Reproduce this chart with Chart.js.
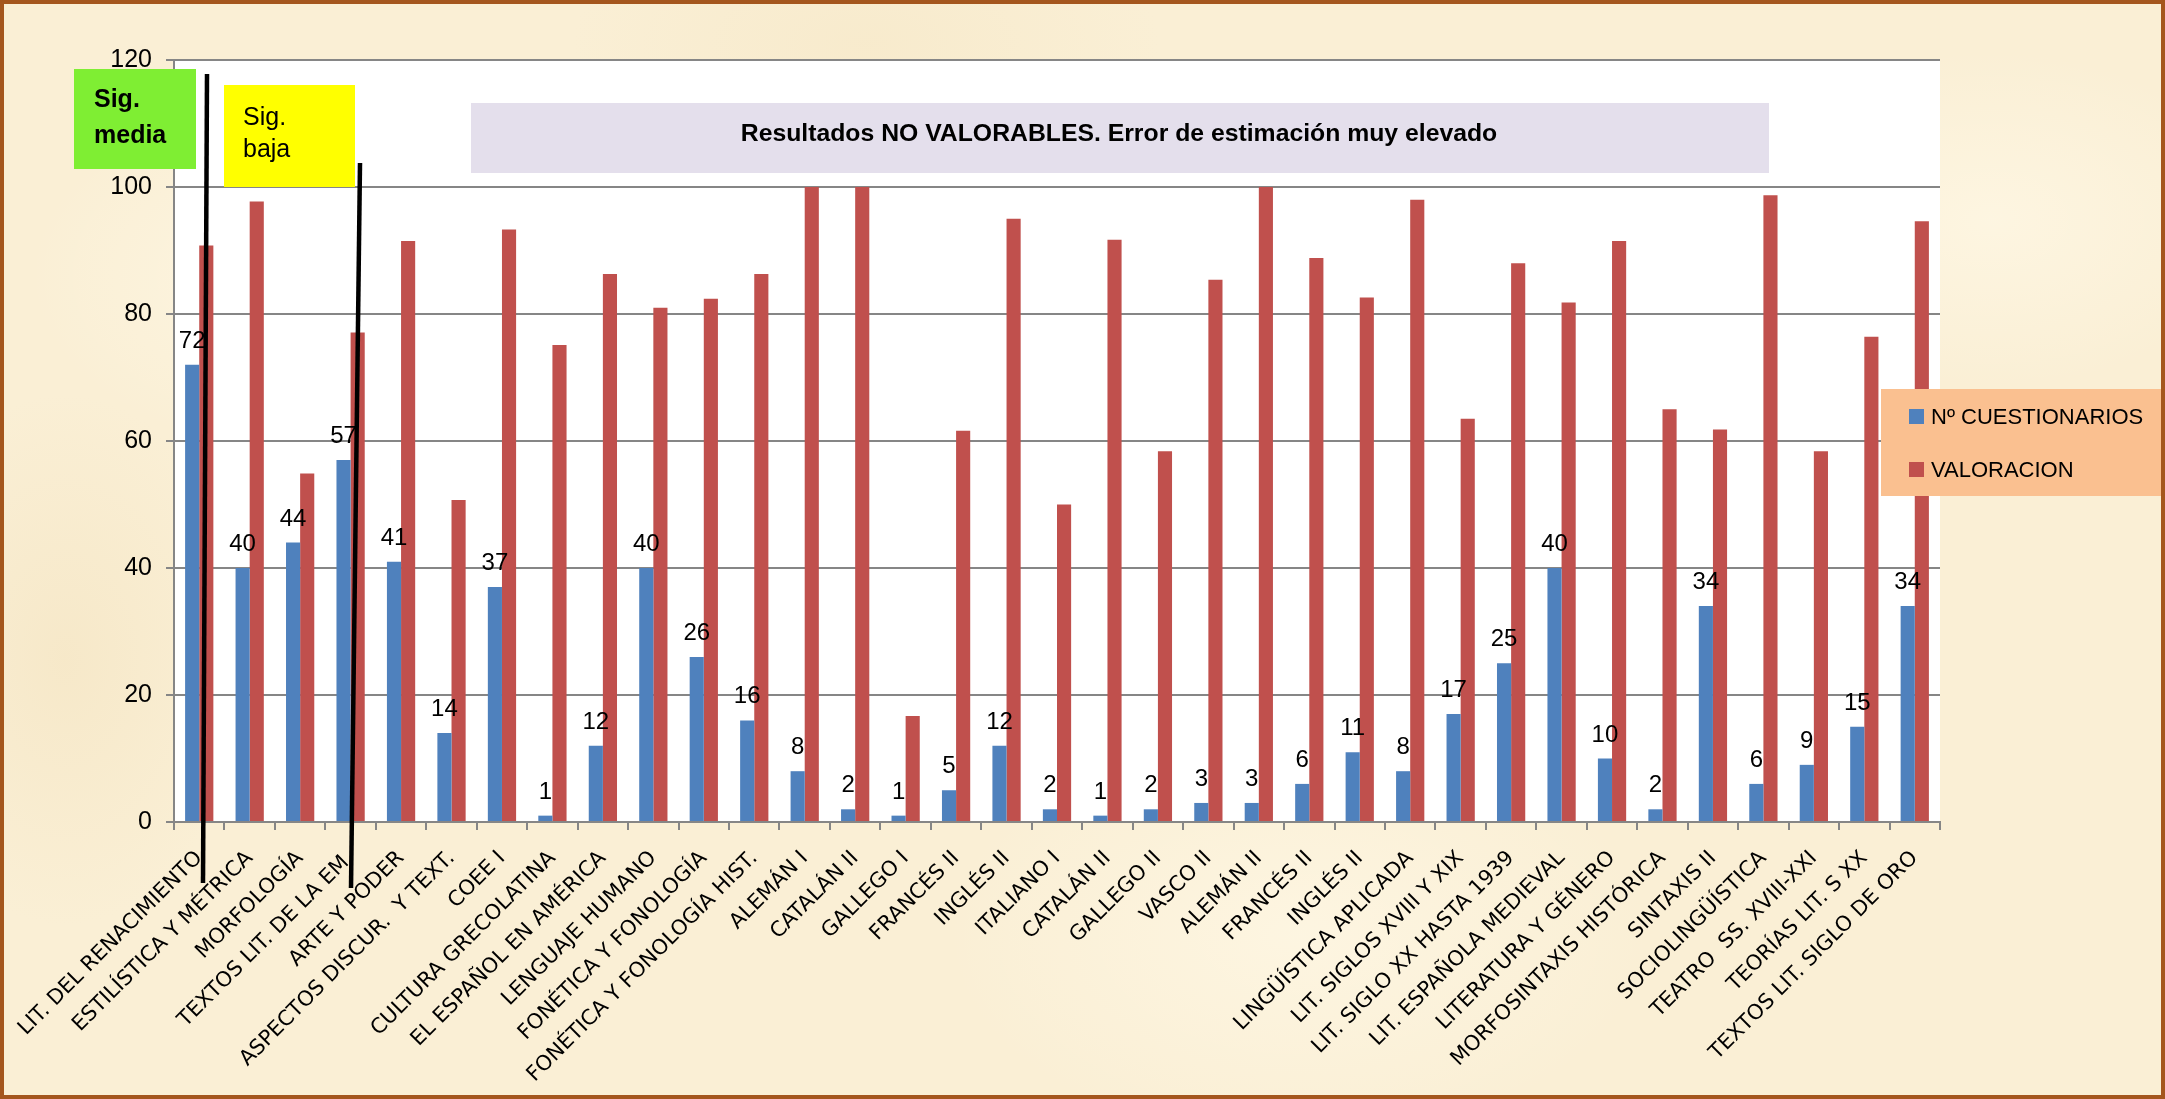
<!DOCTYPE html>
<html>
<head>
<meta charset="utf-8">
<script src="https://cdn.jsdelivr.net/npm/chart.js@4.4.0/dist/chart.umd.min.js"></script>
<style>
  html, body { margin:0; padding:0; width:2165px; height:1099px; overflow:hidden; }
  body {
    background-color:#FAEFD5;
    background-image:
      radial-gradient(ellipse 420px 260px at 15% 25%, rgba(255,249,232,0.7), rgba(255,249,232,0) 70%),
      radial-gradient(ellipse 500px 300px at 60% 85%, rgba(255,248,230,0.7), rgba(255,248,230,0) 70%),
      radial-gradient(ellipse 380px 240px at 92% 20%, rgba(255,248,230,0.7), rgba(255,248,230,0) 70%),
      radial-gradient(ellipse 260px 380px at 3% 60%, rgba(242,224,186,0.45), rgba(242,224,186,0) 70%),
      radial-gradient(ellipse 420px 200px at 40% 4%, rgba(244,228,192,0.4), rgba(244,228,192,0) 70%);
  }
  #chartBox { position:absolute; left:0; top:0; width:2165px; height:1099px; }
  #frame { position:absolute; left:0; top:0; width:2165px; height:1099px; box-sizing:border-box;
           border:4px solid #A4561D; pointer-events:none; }
</style>
</head>
<body>
<div id="chartBox"><canvas id="c" width="2165" height="1099"></canvas></div>
<div id="frame"></div>
<script>
// ---- data ----
const categories = [
  "LIT. DEL RENACIMIENTO", "ESTILÍSTICA Y MÉTRICA", "MORFOLOGÍA", "TEXTOS LIT. DE LA EM.",
  "ARTE Y PODER", "ASPECTOS DISCUR.  Y TEXT.", "COEE I", "CULTURA GRECOLATINA",
  "EL ESPAÑOL EN AMÉRICA", "LENGUAJE HUMANO", "FONÉTICA Y FONOLOGÍA", "FONÉTICA Y FONOLOGÍA HIST.",
  "ALEMÁN I", "CATALÁN II", "GALLEGO I", "FRANCÉS II", "INGLÉS II", "ITALIANO I",
  "CATALÁN II", "GALLEGO II", "VASCO II", "ALEMÁN II", "FRANCÉS II", "INGLÉS II",
  "LINGÜÍSTICA APLICADA", "LIT. SIGLOS XVIII Y XIX", "LIT. SIGLO XX HASTA 1939",
  "LIT. ESPAÑOLA MEDIEVAL", "LITERATURA Y GÉNERO", "MORFOSINTAXIS HISTÓRICA", "SINTAXIS II",
  "SOCIOLINGÜÍSTICA", "TEATRO  SS. XVIII-XXI", "TEORÍAS LIT. S XX", "TEXTOS LIT. SIGLO DE ORO"
];
const cuestionarios = [72, 40, 44, 57, 41, 14, 37, 1, 12, 40, 26, 16, 8, 2, 1, 5, 12, 2, 1, 2, 3, 3, 6, 11, 8, 17, 25, 40, 10, 2, 34, 6, 9, 15, 34];
const valoracion = [90.8, 97.7, 54.9, 77.1, 91.5, 50.7, 93.3, 75.1, 86.3, 81.0, 82.4, 86.3, 100, 100, 16.7, 61.6, 95.0, 50.0, 91.7, 58.4, 85.4, 100, 88.8, 82.6, 98.0, 63.5, 88.0, 81.8, 91.5, 65.0, 61.8, 98.7, 58.4, 76.4, 94.6];
const yTicks = [0, 20, 40, 60, 80, 100, 120];
const seriesNames = ["Nº CUESTIONARIOS", "VALORACION"];
const bannerText = "Resultados NO VALORABLES. Error de estimación muy elevado";
const greenText = ["Sig.", "media"];
const yellowText = ["Sig.", "baja"];

const BLUE = "#4F81BD", RED = "#C0504D", GRID = "#868686";
const NUM_FONT = '"Liberation Sans", Arial, sans-serif';

const plotBg = {
  id: "plotBg",
  beforeDraw(chart) {
    const { ctx, chartArea: a } = chart;
    ctx.save();
    ctx.fillStyle = "#FFFFFF";
    ctx.fillRect(a.left, a.top, a.right - a.left, a.bottom - a.top);
    ctx.restore();
  }
};

const dataLabels = {
  id: "dataLabels",
  afterDatasetsDraw(chart) {
    const ctx = chart.ctx;
    const meta = chart.getDatasetMeta(0);
    ctx.save();
    ctx.font = "24px " + NUM_FONT;
    ctx.fillStyle = "#000";
    ctx.textAlign = "center";
    ctx.textBaseline = "alphabetic";
    meta.data.forEach((bar, i) => {
      ctx.fillText(String(cuestionarios[i]), bar.x, bar.y - 17);
    });
    ctx.restore();
  }
};

const overlays = {
  id: "overlays",
  afterDraw(chart) {
    const ctx = chart.ctx;
    ctx.save();
    // banner
    ctx.fillStyle = "#E4DFEC";
    ctx.fillRect(471, 103, 1298, 70);
    let fs = 27;
    ctx.font = "bold " + fs + "px " + NUM_FONT;
    const w = ctx.measureText(bannerText).width;
    if (w > 757) { fs = fs * 757 / w; ctx.font = "bold " + fs.toFixed(2) + "px " + NUM_FONT; }
    ctx.fillStyle = "#000";
    ctx.textAlign = "center";
    ctx.textBaseline = "alphabetic";
    ctx.fillText(bannerText, 1119, 141);

    // green box
    ctx.fillStyle = "#7FEE33";
    ctx.fillRect(74, 69, 122, 100);
    ctx.fillStyle = "#000";
    ctx.textAlign = "left";
    ctx.font = "bold 25px " + NUM_FONT;
    ctx.fillText(greenText[0], 94, 107);
    ctx.fillText(greenText[1], 94, 143);

    // yellow box
    ctx.fillStyle = "#FFFF00";
    ctx.fillRect(224, 85, 131, 102);
    ctx.fillStyle = "#000";
    ctx.font = "25px " + NUM_FONT;
    ctx.fillText(yellowText[0], 243, 125);
    ctx.fillText(yellowText[1], 243, 157);

    // black lines
    ctx.strokeStyle = "#000";
    ctx.lineWidth = 4.5;
    ctx.beginPath(); ctx.moveTo(207, 74); ctx.lineTo(203, 883); ctx.stroke();
    ctx.beginPath(); ctx.moveTo(360, 163); ctx.lineTo(351, 888); ctx.stroke();

    // legend
    ctx.fillStyle = "#FAC090";
    ctx.fillRect(1881, 389, 290, 107);
    const ds = chart.data.datasets;
    ctx.font = "22px " + NUM_FONT;
    ctx.textBaseline = "alphabetic";
    [[409, 424], [462, 477]].forEach((p, k) => {
      ctx.fillStyle = ds[k].backgroundColor;
      ctx.fillRect(1909, p[0], 15, 15);
      ctx.fillStyle = "#000";
      ctx.fillText(ds[k].label, 1931, p[1]);
    });
    ctx.restore();
  }
};

new Chart(document.getElementById("c"), {
  type: "bar",
  data: {
    labels: categories,
    datasets: [
      { label: seriesNames[0], data: cuestionarios, backgroundColor: BLUE, categoryPercentage: 0.56, barPercentage: 1.0 },
      { label: seriesNames[1], data: valoracion, backgroundColor: RED, categoryPercentage: 0.56, barPercentage: 1.0 }
    ]
  },
  options: {
    responsive: false,
    animation: false,
    devicePixelRatio: 1,
    layout: { padding: { top: 60, right: 225, left: 0, bottom: 0 } },
    plugins: { legend: { display: false }, tooltip: { enabled: false } },
    scales: {
      x: {
        grid: { display: true, drawOnChartArea: false, drawTicks: true, tickLength: 8, color: GRID, lineWidth: 2, offset: true },
        border: { color: GRID, width: 2 },
        ticks: { autoSkip: false, maxRotation: 45, minRotation: 45, color: "#000", padding: 16,
                 font: { family: '"DejaVu Sans", Verdana, sans-serif', size: 21 } },
        afterFit(s) { s.height = 277; s.paddingLeft = 0; s.paddingRight = 0; }
      },
      y: {
        min: 0, max: 120,
        grid: { color: GRID, lineWidth: 2, tickLength: 8 },
        border: { color: GRID, width: 2 },
        ticks: { color: "#000", padding: 14, font: { family: NUM_FONT, size: 25 } },
        afterBuildTicks(s) { s.ticks = yTicks.map(v => ({ value: v })); },
        afterFit(s) { s.width = 174; s.paddingTop = 0; s.paddingBottom = 0; }
      }
    }
  },
  plugins: [plotBg, dataLabels, overlays]
});
</script>
</body>
</html>
